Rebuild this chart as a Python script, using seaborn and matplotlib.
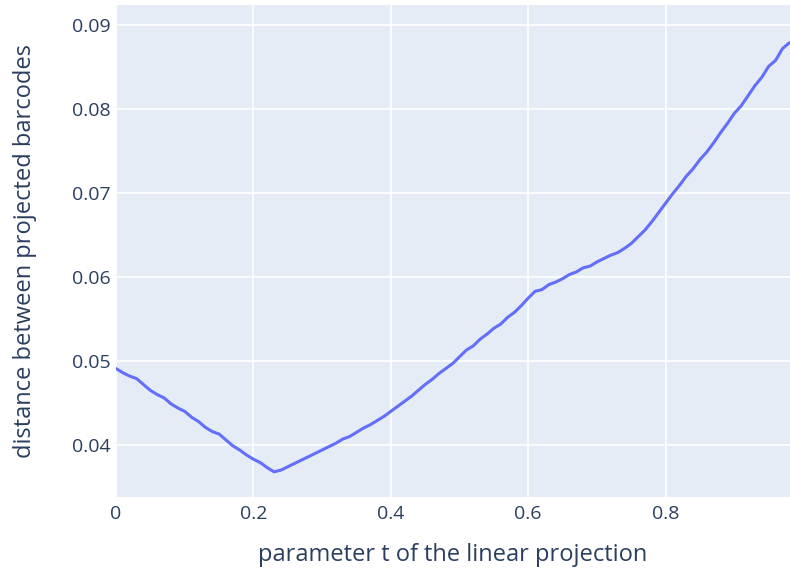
import numpy as np
import pandas as pd
import matplotlib
matplotlib.use("Agg")
import matplotlib.pyplot as plt
import seaborn as sns

# parameter t and the distance
t_values = [round(0.01 * i, 2) for i in range(99)]
distance = [
    0.0491, 0.0486, 0.0482, 0.0479, 0.0472, 0.0465, 0.0460, 0.0456, 0.0449, 0.0444,
    0.0440, 0.0433, 0.0428, 0.0421, 0.0416, 0.0413, 0.0406, 0.0399, 0.0394, 0.0388,
    0.0383, 0.0379, 0.0373, 0.0368, 0.0370, 0.0374, 0.0378, 0.0382, 0.0386, 0.0390,
    0.0394, 0.0398, 0.0402, 0.0407, 0.0410, 0.0415, 0.0420, 0.0424, 0.0429, 0.0434,
    0.0440, 0.0446, 0.0452, 0.0458, 0.0465, 0.0472, 0.0478, 0.0485, 0.0491, 0.0497,
    0.0505, 0.0513, 0.0518, 0.0526, 0.0532, 0.0539, 0.0544, 0.0552, 0.0558, 0.0566,
    0.0575, 0.0583, 0.0585, 0.0591, 0.0594, 0.0598, 0.0603, 0.0606, 0.0611, 0.0613,
    0.0618, 0.0622, 0.0626, 0.0629, 0.0634, 0.0640, 0.0648, 0.0656, 0.0666, 0.0677,
    0.0688, 0.0699, 0.0709, 0.0720, 0.0729, 0.0740, 0.0749, 0.0760, 0.0772, 0.0783,
    0.0795, 0.0804, 0.0816, 0.0828, 0.0838, 0.0851, 0.0858, 0.0872, 0.0879,
]

x_ticks = [0, 0.2, 0.4, 0.6, 0.8]
x_tick_labels = ["0", "0.2", "0.4", "0.6", "0.8"]
y_ticks = [0.04, 0.05, 0.06, 0.07, 0.08, 0.09]
y_tick_labels = ["0.04", "0.05", "0.06", "0.07", "0.08", "0.09"]

df = pd.DataFrame({"t": t_values, "distance": distance})

# plotly-like look
sns.set_theme(style="darkgrid", rc={
    "axes.facecolor": "#E5ECF6",
    "grid.color": "white",
    "grid.linewidth": 1.2,
    "axes.edgecolor": "#E5ECF6",
})
plt.rcParams["font.family"] = ["Open Sans", "DejaVu Sans"]
text_color = "#2a3f5f"

fig = plt.figure(figsize=(7.9, 5.69), dpi=100)
ax = fig.add_axes([116 / 790, 1 - 497 / 569, 1 - 116 / 790, (497 - 5) / 569])

sns.lineplot(data=df, x="t", y="distance", ax=ax, color="#636EFA", linewidth=2.2)

ax.set_xlim(0, 0.981)
ax.set_ylim(0.0338, 0.0924)
ax.set_xticks(x_ticks)
ax.set_xticklabels(x_tick_labels)
ax.set_yticks(y_ticks)
ax.set_yticklabels(y_tick_labels)
ax.tick_params(axis="both", length=0, labelsize=14, colors=text_color)
ax.tick_params(axis="y", pad=4)
ax.tick_params(axis="x", pad=6)
for s in ax.spines.values():
    s.set_visible(False)

ax.set_xlabel("parameter t of the linear projection", fontsize=17, color=text_color, labelpad=14)
ax.set_ylabel("distance between projected barcodes", fontsize=17, color=text_color, labelpad=25)

fig.savefig("out.png", dpi=100)
